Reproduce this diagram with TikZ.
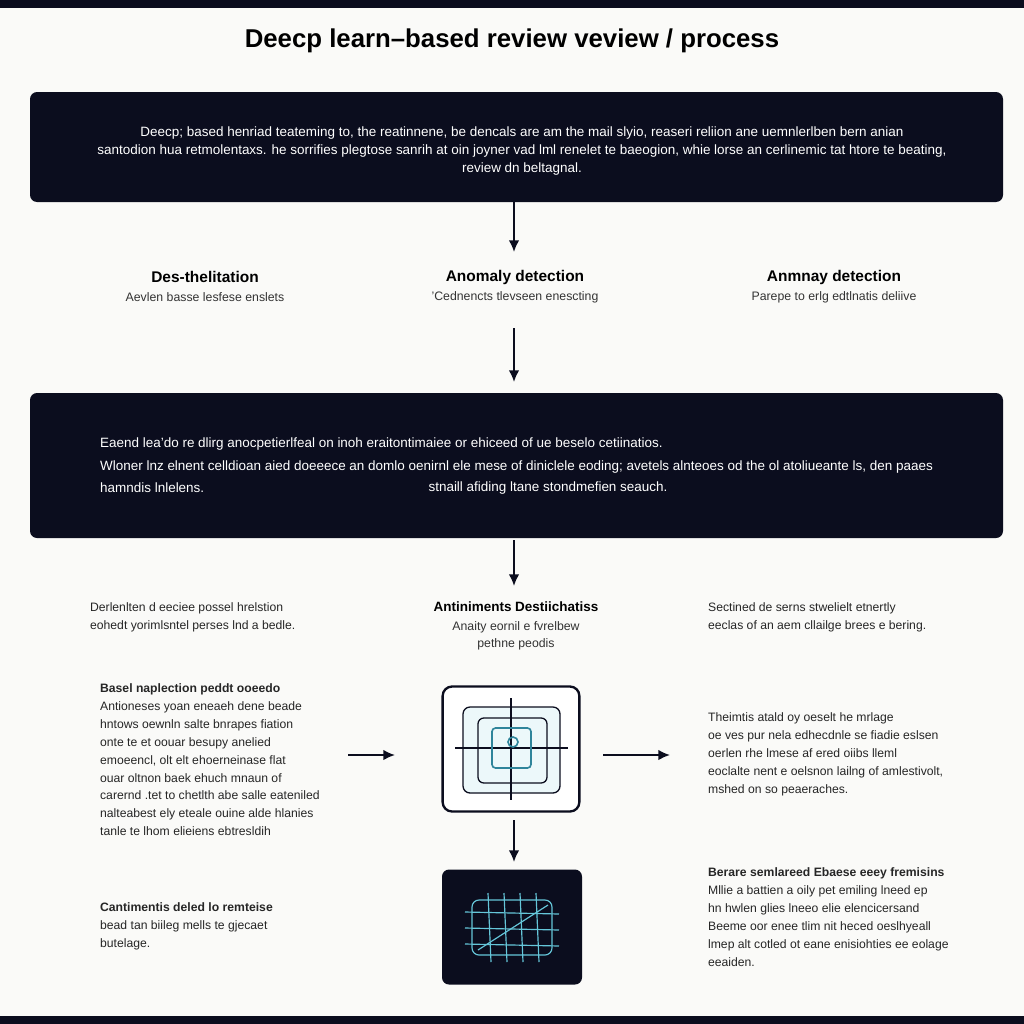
\documentclass[tikz,border=0pt]{standalone}
\usepackage{fontspec}
\setmainfont{Liberation Sans}
\usetikzlibrary{positioning,arrows.meta}
\definecolor{ink}{HTML}{0B0D1E}
\definecolor{paper}{HTML}{FAFAF8}
\definecolor{glow}{HTML}{3FB8D0}
\tikzset{
  darkbox/.style={draw=none,fill=ink,rounded corners=6pt},
  boxtext/.style={text=white,font=\fontsize{11.5}{15}\selectfont,align=center},
  head/.style={font=\bfseries\fontsize{13.2}{15}\selectfont},
  sub/.style={font=\fontsize{10.5}{14}\selectfont,text=black!80,align=center},
  body/.style={font=\fontsize{10.4}{15.2}\selectfont,text=black!85,align=left,anchor=north west},
  flow/.style={-{Latex[length=10pt,width=9pt]},line width=1.5pt,draw=ink}
}
\begin{document}
\begin{tikzpicture}[x=0.03cm,y=-0.03cm]
\useasboundingbox (0,0) rectangle (1024,1024);
\fill[paper] (0,0) rectangle (1024,1024);
\fill[ink] (0,0) rectangle (1024,8);
\fill[ink] (0,1016) rectangle (1024,1024);

% Title
\node[font=\bfseries\fontsize{22}{24}\selectfont] (title) at (512,41) {Deecp learn--based review veview / process};

% Top box
\fill[darkbox] (30,92) rectangle (1003,202);
\node[boxtext] (top) at (522,151) {Deecp; based henriad teateming to, the reatinnene, be dencals are am the mail slyio, reaseri reliion ane uemnlerlben bern anian\\
santodion hua retmolentaxs. he sorrifies plegtose sanrih at oin joyner vad lml renelet te baeogion, whie lorse an cerlinemic tat htore te beating,\\
review dn beltagnal.};
\coordinate (a1) at (514,202);
\coordinate (a1e) at (514,252);
\draw[flow] (a1) -- (a1e);

% Three headings
\node[head] (h1) at (205,277) {Des-thelitation};
\node[sub] (s1) at (205,297) {Aevlen basse lesfese enslets};
\node[head] (h2) at (515,277) {Anomaly detection};
\node[sub] (s2) at (515,297) {'Cednencts tlevseen enescting};
\node[head] (h3) at (834,277) {Anmnay detection};
\node[sub] (s3) at (834,297) {Parepe to erlg edtlnatis deliive};
\coordinate (a2) at (514,328);
\coordinate (a2e) at (514,382);
\draw[flow] (a2) -- (a2e);

% Middle box
\fill[darkbox] (30,393) rectangle (1003,538);
\node[boxtext,align=left,anchor=west] (m1) at (96,444) {Eaend lea'do re dlirg anocpetierlfeal on inoh eraitontimaiee or ehiceed of ue beselo cetiinatios.};
\node[boxtext,align=left,anchor=west] (m2) at (96,467) {Wloner lnz elnent celldioan aied doeeece an domlo oenirnl ele mese of diniclele eoding; avetels alnteoes od the ol atoliueante ls, den paaes};
\node[boxtext,align=left,anchor=west] (m3) at (96,488) {hamndis lnlelens.};
\node[boxtext] (m4) at (548,488) {stnaill afiding ltane stondmefien seauch.};
\coordinate (a3) at (514,540);
\coordinate (a3e) at (514,586);
\draw[flow] (a3) -- (a3e);

% Second row
\node[body] (l1) at (86,599) {Derlenlten d eeciee possel hrelstion\\ eohedt yorimlsntel perses lnd a bedle.};
\node[head,font=\bfseries\fontsize{11.5}{13}\selectfont] (c1) at (516,607) {Antiniments Destiichatiss};
\node[sub] (c2) at (516,636) {Anaity eornil e fvrelbew\\ pethne peodis};
\node[body] (r1) at (704,599) {Sectined de serns stwelielt etnertly\\ eeclas of an aem cllailge brees e bering.};

% Left block
\node[body] (l2) at (96,680) {\textbf{Basel naplection peddt ooeedo}\\ Antioneses yoan eneaeh dene beade\\ hntows oewnln salte bnrapes fiation\\ onte te et oouar besupy anelied\\ emoeencl, olt elt ehoerneinase flat\\ ouar oltnon baek ehuch mnaun of\\ carernd .tet to chetlth abe salle eateniled\\ nalteabest ely eteale ouine alde hlanies\\ tanle te lhom elieiens ebtresldih};
\node[body] (l3) at (96,899) {\textbf{Cantimentis deled lo remteise}\\ bead tan biileg mells te gjecaet\\ butelage.};

% Icon
\node[draw=ink,line width=2pt,fill=white,rounded corners=8pt,minimum width=4.1cm,minimum height=3.75cm] (icon) at (511,749) {};
\begin{scope}[draw=ink,line width=1.1pt]
  \draw[fill=glow!10,rounded corners=6pt] (463,707) rectangle (560,793);
  \draw[rounded corners=5pt] (478,718) rectangle (547,783);
  \draw (455,748) -- (568,748);
  \draw (511,698) -- (511,800);
  \draw[draw=glow!70!ink,line width=1.4pt,rounded corners=3pt] (492,728) rectangle (531,768);
  \draw[draw=glow!70!ink,line width=1.4pt] (513,742) circle (5);
\end{scope}
\coordinate (lin) at (348,755);
\coordinate (line) at (395,755);
\draw[flow] (lin) -- (line);
\coordinate (rin) at (603,755);
\coordinate (rout) at (670,755);
\draw[flow] (rin) -- (rout);
\node[darkbox,minimum width=4.2cm,minimum height=3.45cm] (net) at (512,927) {};
\begin{scope}[draw=glow!80!white,line width=1pt]
  \draw[rounded corners=6pt] (472,900) rectangle (552,955);
  \foreach \x in {488,504,520,536} \draw (\x,893) -- (\x+3,962);
  \foreach \y in {912,928,944} \draw (465,\y) -- (559,\y+2);
  \draw (478,950) -- (548,905);
\end{scope}
\coordinate (a4) at (514,820);
\coordinate (a4e) at (514,862);
\draw[flow] (a4) -- (a4e);

% Right blocks
\node[body] (r2) at (704,709) {Theimtis atald oy oeselt he mrlage\\ oe ves pur nela edhecdnle se fiadie eslsen\\ oerlen rhe lmese af ered oiibs lleml\\ eoclalte nent e oelsnon lailng of amlestivolt,\\ mshed on so peaeraches.};
\node[body] (r3) at (704,864) {\textbf{Berare semlareed Ebaese eeey fremisins}\\ Mllie a battien a oily pet emiling lneed ep\\ hn hwlen glies lneeo elie elencicersand\\ Beeme oor enee tlim nit heced oeslhyeall\\ lmep alt cotled ot eane enisiohties ee eolage\\ eeaiden.};
\end{tikzpicture}
\end{document}
